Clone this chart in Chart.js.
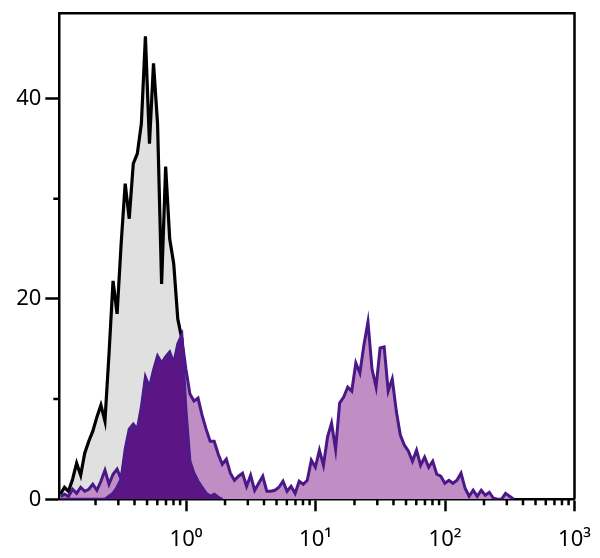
<!DOCTYPE html>
<html>
<head>
<meta charset="utf-8">
<script src="https://cdn.jsdelivr.net/npm/chart.js@4.4.1/dist/chart.umd.min.js"></script>
<style>
  html, body { margin: 0; padding: 0; background: #fff; }
  #c { display: block; }
</style>
</head>
<body>
<canvas id="c" width="600" height="558"></canvas>
<script>
// Histogram binning: log-spaced channels, 32 per decade starting at 10^-0.97
const binStartLog = -0.97;
const binsPerDecade = 32;

// Isotype control (grey fill, black outline)
const isotypeCounts = [
  0.5, 1.2, 0.8, 2.0, 3.6, 2.4, 4.6, 5.8, 6.8, 8.2,
  9.4, 7.8, 14.5, 21.8, 18.5, 25.5, 31.5, 28.0, 33.5, 34.5,
  37.5, 46.2, 35.5, 43.5, 37.5, 21.5, 33.2, 26.0, 23.5, 18.0,
  16.0, 11.0, 6.0, 2.5, 1.0, 0.3, 0
];

// Stained sample (light purple fill)
const stainedCounts = [
  0.3, 0.5, 0.3, 1.0, 0.6, 1.2, 0.8, 1.0, 1.5, 0.9,
  1.8, 2.9, 1.5, 2.5, 3.0, 2.0, 4.5, 6.5, 7.0, 6.5,
  8.8, 11.8, 10.8, 12.5, 14.0, 13.2, 13.8, 14.3, 13.2, 15.0,
  16.0, 13.0, 10.5, 9.8, 10.1, 8.4, 7.0, 5.8, 5.8, 4.5,
  3.5, 4.0, 2.6, 1.9, 2.3, 2.6, 1.3, 2.4, 0.9, 1.6,
  2.3, 0.8, 0.8, 0.9, 1.2, 1.8, 0.8, 1.3, 0.6, 1.8,
  1.5, 1.9, 3.9, 3.2, 4.9, 3.4, 6.2, 7.6, 5.0, 9.6,
  10.2, 11.2, 10.8, 13.6, 12.6, 15.4, 17.7, 13.0, 11.2, 15.1,
  15.2, 10.8, 12.0, 8.8, 6.4, 5.4, 4.8, 3.8, 4.9, 3.4,
  4.2, 3.2, 3.8, 2.5, 2.3, 1.6, 1.9, 1.6, 1.9, 2.6,
  1.1, 0.3, 0.9, 0.3, 0.9, 0.4, 0.7, 0.1, 0, 0,
  0.6, 0.3, 0
];

// Negative population (dark purple fill)
const negativeCounts = [
  0, 0, 0, 0, 0, 0, 0, 0, 0, 0,
  0, 0, 0.3, 0.6, 1.2, 2.0, 5.0, 7.0, 7.5, 7.0,
  9.2, 12.2, 11.2, 12.9, 14.3, 13.6, 14.2, 14.7, 13.6, 15.5,
  16.4, 9.0, 3.8, 2.6, 1.8, 1.2, 0.6, 0.3, 0.5, 0.2,
  0
];

// Axis ticks
const xMajorTicks = [1, 10, 100, 1000];
const xTickLabels = ['10\u2070', '10\u00B9', '10\u00B2', '10\u00B3'];
const xMinorTicks = [0.2,0.3,0.4,0.5,0.6,0.7,0.8,0.9, 2,3,4,5,6,7,8,9, 20,30,40,50,60,70,80,90, 200,300,400,500,600,700,800,900];
const yMajorTicks = [0, 20, 40];
const yMinorTicks = [10, 30];

function toPoints(counts) {
  return counts.map((c, i) => ({ x: Math.pow(10, binStartLog + i / binsPerDecade), y: c }));
}

const framePlugin = {
  id: 'frameAndMinorTicks',
  afterDraw(chart) {
    const { ctx, chartArea: a, scales } = chart;
    const x = scales.x, y = scales.y;
    ctx.save();
    ctx.strokeStyle = '#000';
    ctx.lineWidth = 2.5;
    ctx.beginPath();
    ctx.moveTo(a.left, a.top);
    ctx.lineTo(a.right, a.top);
    ctx.lineTo(a.right, a.bottom);
    ctx.stroke();
    ctx.beginPath();
    xMinorTicks.forEach(v => {
      const px = x.getPixelForValue(v);
      ctx.moveTo(px, a.bottom);
      ctx.lineTo(px, a.bottom + 6);
    });
    yMinorTicks.forEach(v => {
      const py = y.getPixelForValue(v);
      ctx.moveTo(a.left, py);
      ctx.lineTo(a.left - 6, py);
    });
    ctx.stroke();
    ctx.restore();
  }
};

const tickFont = { family: "'Noto Sans', 'DejaVu Sans', sans-serif", size: 22 };

new Chart(document.getElementById('c'), {
  type: 'line',
  data: {
    datasets: [
      {
        label: 'Negative',
        data: toPoints(negativeCounts),
        borderColor: '#4c1a8a',
        backgroundColor: '#5c1584',
        fill: 'origin',
        borderWidth: 3,
        pointRadius: 0,
        tension: 0,
        order: 0
      },
      {
        label: 'Stained',
        data: toPoints(stainedCounts),
        borderColor: '#4b1888',
        backgroundColor: '#c08ec4',
        fill: 'origin',
        borderWidth: 3,
        pointRadius: 0,
        tension: 0,
        order: 1
      },
      {
        label: 'Isotype control',
        data: toPoints(isotypeCounts),
        borderColor: '#000000',
        backgroundColor: '#e0e0e0',
        fill: 'origin',
        borderWidth: 3.2,
        pointRadius: 0,
        tension: 0,
        order: 2
      }
    ]
  },
  options: {
    responsive: false,
    animation: false,
    layout: { padding: { top: 13.3, right: 25.5, left: 0, bottom: 0 } },
    plugins: { legend: { display: false }, tooltip: { enabled: false } },
    scales: {
      x: {
        type: 'logarithmic',
        min: 0.105,
        max: 1000,
        afterBuildTicks: s => { s.ticks = xMajorTicks.map(v => ({ value: v })); },
        afterFit: s => { s.height = 58.7; s.paddingLeft = 0; s.paddingRight = 0; },
        ticks: {
          callback: (v, i) => xTickLabels[i],
          autoSkip: false,
          maxRotation: 0,
          font: tickFont,
          color: '#000',
          padding: 15
        },
        grid: { drawOnChartArea: false, drawTicks: true, tickLength: 12, tickWidth: 2.5, tickColor: '#000' },
        border: { display: true, color: '#000', width: 2.5 }
      },
      y: {
        type: 'linear',
        min: 0,
        max: 48.5,
        afterBuildTicks: s => { s.ticks = yMajorTicks.map(v => ({ value: v })); },
        afterFit: s => { s.width = 59.3; s.paddingTop = 0; s.paddingBottom = 0; },
        ticks: {
          callback: v => String(v),
          font: tickFont,
          color: '#000',
          padding: 4
        },
        grid: { drawOnChartArea: false, drawTicks: true, tickLength: 14, tickWidth: 2.5, tickColor: '#000' },
        border: { display: true, color: '#000', width: 2.5 }
      }
    }
  },
  plugins: [framePlugin]
});
</script>
</body>
</html>
